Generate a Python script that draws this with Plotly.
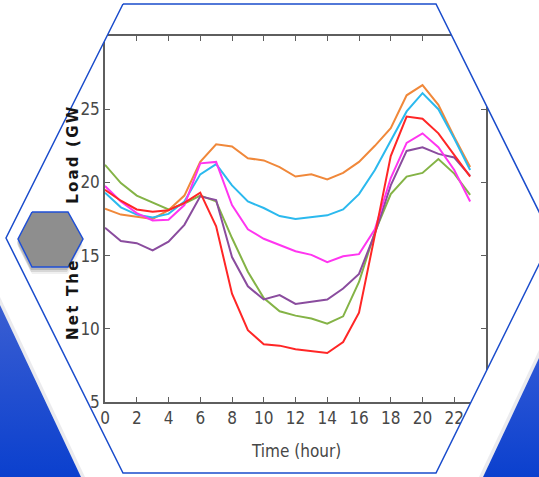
import plotly.graph_objects as go

# Canvas size in pixels
W, H = 539, 477

# Hourly net thermal load (GW) for six daily profiles
hours = list(range(24))
green = [21.2, 19.95, 19.1, 18.6, 18.15, 18.55, 19.1, 18.7, 16.2, 13.9, 12.1, 11.2,
         10.9, 10.7, 10.35, 10.85, 13.2, 16.6, 19.2, 20.4, 20.65, 21.6, 20.6, 19.15]
purple = [16.9, 16.0, 15.85, 15.35, 15.95, 17.1, 19.05, 18.8, 14.9, 12.9, 12.0, 12.3,
          11.7, 11.85, 12.0, 12.75, 13.75, 16.5, 19.8, 22.15, 22.4, 21.95, 21.7, 20.45]
orange = [18.2, 17.8, 17.65, 17.5, 18.1, 19.1, 21.4, 22.6, 22.45, 21.65, 21.5, 21.05,
          20.4, 20.55, 20.2, 20.65, 21.4, 22.5, 23.7, 25.95, 26.65, 25.3, 23.1, 21.05]
cyan = [19.3, 18.3, 17.8, 17.6, 17.85, 18.7, 20.55, 21.25, 19.8, 18.7, 18.25, 17.7,
        17.5, 17.6, 17.75, 18.15, 19.2, 20.85, 22.8, 24.85, 26.1, 25.0, 23.0, 20.85]
magenta = [19.75, 18.7, 17.9, 17.4, 17.45, 18.45, 21.3, 21.4, 18.45, 16.8, 16.15, 15.75,
           15.3, 15.05, 14.55, 14.95, 15.1, 16.8, 20.3, 22.7, 23.35, 22.4, 20.85, 18.7]
red = [19.5, 18.75, 18.15, 18.0, 18.1, 18.6, 19.3, 17.0, 12.4, 9.9, 8.95, 8.85,
       8.6, 8.5, 8.35, 9.1, 11.1, 16.4, 21.8, 24.5, 24.35, 23.35, 21.9, 20.4]

x_ticks = list(range(0, 24, 2))
y_ticks = [5, 10, 15, 20, 25]

series = [
    (green, "#84B346"),
    (purple, "#8A4C9E"),
    (orange, "#F0883A"),
    (cyan, "#2BB9EE"),
    (magenta, "#FF35F0"),
    (red, "#FF2626"),
]

# Plot box in pixels (left, top, right, bottom)
BOX = (105, 36, 486, 402)

fig = go.Figure()
for vals, color in series:
    fig.add_trace(go.Scatter(x=hours, y=vals, mode="lines",
                             line=dict(color=color, width=2),
                             xaxis="x", yaxis="y",
                             showlegend=False, hoverinfo="skip"))

# ---- decorative frame, drawn on a full-canvas pixel layer above the chart ----
def poly(points, **kw):
    xs = [p[0] for p in points] + [points[0][0]]
    ys = [p[1] for p in points] + [points[0][1]]
    fig.add_trace(go.Scatter(x=xs, y=ys, xaxis="x2", yaxis="y2", mode="lines",
                             showlegend=False, hoverinfo="skip", **kw))

hexagon = [(123, 4), (436, 4), (552, 238), (436, 473), (123, 473), (6, 238)]

# white outside of the big hexagon
white = dict(fill="toself", fillcolor="white", line=dict(width=0))
poly([(0, 0), (123, 0), (123, 4), (6, 238), (123, 473), (123, 477), (0, 477)], **white)
poly([(539, 0), (436, 0), (436, 4), (552, 238), (436, 473), (436, 477), (539, 477)], **white)
poly([(123, 0), (436, 0), (436, 4), (123, 4)], **white)
poly([(123, 473), (436, 473), (436, 477), (123, 477)], **white)

# blue corner wedges with a soft edge shadow
for pts in ([(0, 297), (85, 477), (81, 477), (0, 305)],
            [(539, 350), (479, 477), (483, 477), (539, 358)]):
    poly(pts, fill="toself", fillcolor="rgba(60,60,90,0.10)", line=dict(width=0))
poly([(0, 305), (81, 477), (0, 477)], fill="toself", line=dict(width=0),
     fillgradient=dict(type="vertical", start=305, stop=477,
                       colorscale=[[0, "#3A5ED2"], [1, "#0B40CE"]]))
poly([(539, 358), (483, 477), (539, 477)], fill="toself", line=dict(width=0),
     fillgradient=dict(type="vertical", start=358, stop=477,
                       colorscale=[[0, "#2F58D6"], [1, "#0B40CE"]]))

# small grey hexagon badge with drop shadow
badge = [(32, 212), (68, 212), (83, 239), (68, 267), (32, 267), (18, 239)]
for dx, dy, a in [(0, 7, 0.06), (-1, 5, 0.10), (-1, 3, 0.14)]:
    poly([(x + dx, y + dy) for x, y in badge], fill="toself",
         fillcolor=f"rgba(0,0,0,{a})", line=dict(width=0))
poly(badge, fill="toself", fillcolor="#8E8E8E", line=dict(color="#1F4FD6", width=1.5))

# outline of the big hexagon
poly(hexagon, line=dict(color="#1A4CCC", width=1.5))

label_family = "Liberation Sans Narrow, DejaVu Sans Condensed, sans-serif"
tick_font = dict(family=label_family, size=17, color="#474747")
axis_common = dict(showline=True, linecolor="#5E5E5E", linewidth=1.5, mirror="ticks",
                   ticks="inside", ticklen=5, tickcolor="#5E5E5E", tickwidth=1,
                   showgrid=False, zeroline=False, tickfont=tick_font,
                   fixedrange=True, automargin=False)

fig.update_layout(
    width=W, height=H,
    margin=dict(l=0, r=0, t=0, b=0, autoexpand=False),
    paper_bgcolor="white",
    plot_bgcolor="rgba(0,0,0,0)",
    xaxis=dict(domain=[BOX[0] / W, BOX[2] / W], range=[0, 24],
               tickvals=x_ticks, anchor="y", **axis_common),
    yaxis=dict(domain=[1 - BOX[3] / H, 1 - BOX[1] / H], range=[5, 30],
               tickvals=y_ticks, anchor="x", **axis_common),
    xaxis2=dict(domain=[0, 1], range=[0, W], visible=False, anchor="y2",
                fixedrange=True, automargin=False),
    yaxis2=dict(domain=[0, 1], range=[H, 0], visible=False, anchor="x2",
                fixedrange=True, automargin=False),
    annotations=[
        dict(text="Time (hour)", xref="paper", yref="paper",
             x=295.5 / W, y=1 - 451 / H, xanchor="center", yanchor="middle",
             showarrow=False, font=dict(family=label_family, size=17, color="#474747")),
        dict(text=('<span style="letter-spacing:2.2px">Net The'
                   '<span style="color:rgba(0,0,0,0)">rmal</span> Load (GW'
                   '<span style="color:rgba(0,0,0,0)">)</span></span>'),
             xref="paper", yref="paper", x=73 / W, y=1 - 218 / H,
             xanchor="center", yanchor="middle", textangle=-90, showarrow=False,
             font=dict(family="DejaVu Sans, sans-serif", size=15, color="#151515",
                       weight="bold")),
    ],
)

fig.write_html("out.html")
